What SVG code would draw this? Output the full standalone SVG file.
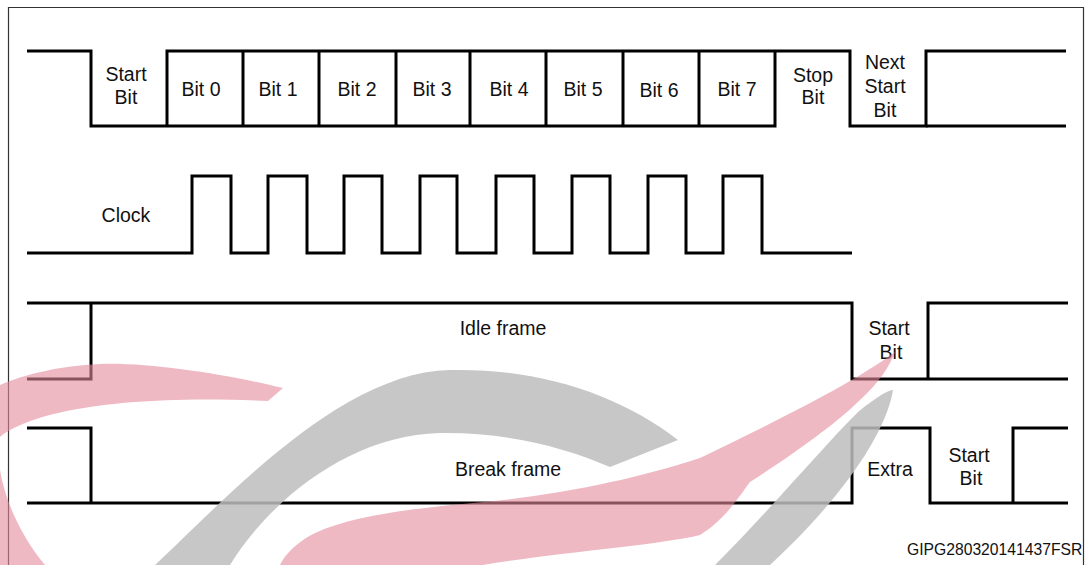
<svg xmlns="http://www.w3.org/2000/svg" width="1088" height="565" viewBox="0 0 1088 565">
<style>
.w{fill:none;stroke:#000;stroke-width:3;stroke-linejoin:miter}
.t{font-family:"Liberation Sans",Arial,sans-serif;font-size:19.5px;fill:#111;text-anchor:middle}
.s{font-family:"Liberation Sans",Arial,sans-serif;font-size:15.7px;fill:#111}
.red{fill:#e48a9c;opacity:0.6}
.grey{fill:#bdbdbd;opacity:0.85}
</style>
<rect width="1088" height="565" fill="#fff"/>
<path d="M8.5,600 V7.5 H1083.5 V600" fill="none" stroke="#333" stroke-width="1.2"/>

<g id="data-frame">
<path class="w" d="M27,51 H91 V126 H775 V51"/>
<path class="w" d="M167,126 V51 H850 V126 H926 V51 H1066"/>
<path class="w" d="M926,126 H1066"/>
<path class="w" d="M243,51 V126 M319,51 V126 M396,51 V126 M470,51 V126 M546,51 V126 M623,51 V126 M699,51 V126"/>
<text class="t" x="126" y="80.5">Start</text>
<text class="t" x="126" y="104">Bit</text>
<text class="t" x="201" y="96">Bit 0</text>
<text class="t" x="278" y="96">Bit 1</text>
<text class="t" x="357" y="96">Bit 2</text>
<text class="t" x="432" y="96">Bit 3</text>
<text class="t" x="509" y="96">Bit 4</text>
<text class="t" x="583" y="96">Bit 5</text>
<text class="t" x="659" y="97">Bit 6</text>
<text class="t" x="737" y="96">Bit 7</text>
<text class="t" x="813" y="81.5">Stop</text>
<text class="t" x="813" y="104">Bit</text>
<text class="t" x="885" y="69">Next</text>
<text class="t" x="885" y="93">Start</text>
<text class="t" x="885" y="116.5">Bit</text>
</g>

<g id="clock">
<path class="w" d="M27,253 H192 V176 H231 V253 H268 V176 H307 V253 H344 V176 H382 V253 H420 V176 H457 V253 H496 V176 H534 V253 H572 V176 H610 V253 H648 V176 H686 V253 H723 V176 H762 V253 H852"/>
<text class="t" x="126" y="222">Clock</text>
</g>

<g id="idle-frame">
<path class="w" d="M27,303 H852 V379 H1068"/>
<path class="w" d="M27,379 H91 V303"/>
<path class="w" d="M928,379 V303 H1068"/>
<text class="t" x="503" y="334.5">Idle frame</text>
<text class="t" x="889" y="335">Start</text>
<text class="t" x="891" y="358.5">Bit</text>
</g>

<g id="break-frame">
<path class="w" d="M27,428 H91 V503"/>
<path class="w" d="M27,503 H852 V428 H930 V503 H1068"/>
<path class="w" d="M1013,503 V428 H1068"/>
<text class="t" x="508" y="476">Break frame</text>
<text class="t" x="890" y="476">Extra</text>
<text class="t" x="969" y="462">Start</text>
<text class="t" x="971" y="485">Bit</text>
</g>

<text class="s" x="907" y="555">GIPG280320141437FSR</text>

<g id="watermark">
<path class="red" d="M283,388 C230,375 150,362 100,364 C60,366 25,374 0,385 L0,437 C30,412 120,394 268,401 Z"/>
<path class="red" d="M0,470 C5,500 20,535 45,565 L0,565 Z"/>
<path class="red" d="M895,352 C860,378 800,410 700,458 C640,478 560,495 483,502 C420,508 340,515 303,540 C292,548 284,556 280,565 L483,565 C560,552 660,545 700,535 C725,520 740,495 750,482 C800,450 840,420 860,400 C880,382 890,365 895,352 Z"/>
<path class="grey" d="M155,565 C225,500 340,372 450,370 C540,368 620,395 678,440 L610,467 C560,445 500,432 440,433 C350,435 270,500 230,565 Z"/>
<path class="grey" d="M893,390 C885,440 830,510 770,565 L715,565 C770,510 820,450 858,412 C875,398 888,390 893,390 Z"/>
</g>
</svg>
